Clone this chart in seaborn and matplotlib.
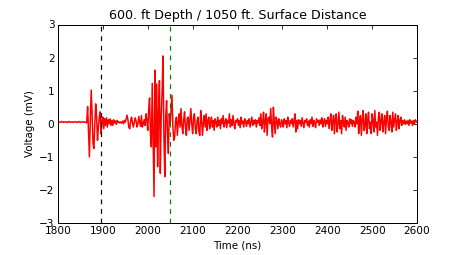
import numpy as np
import pandas as pd
import matplotlib
matplotlib.use("Agg")
import matplotlib.pyplot as plt
import seaborn as sns

# waveform samples, 2 ns step from 1800 ns to 2600 ns
t_start, t_step = 1800, 2
voltage = [
    0.05, 0.06, 0.04, 0.05, 0.07, 0.05, 0.04, 0.06, 0.05, 0.06,
    0.04, 0.05, 0.07, 0.05, 0.04, 0.06, 0.05, 0.04, 0.06, 0.05,
    0.06, 0.04, 0.05, 0.07, 0.05, 0.04, 0.06, 0.05, 0.05, 0.06,
    0.04, 0.05, 0.03, 0.52, -0.2, -1.0, 0.1, 1.02, 0.3, -0.6,
    -0.75, 0.0, 0.6, 0.2, -0.5, -0.1, 0.2, 0.36, -0.3, 0.1,
    0.2, -0.15, 0.15, -0.05, 0.18, -0.1, 0.12, 0.0, 0.15, -0.05,
    0.1, -0.05, 0.12, 0.02, 0.08, -0.02, 0.1, 0.04, 0.06, 0.02,
    0.06, 0.02, 0.08, 0.0, 0.1, 0.05, 0.15, 0.26, 0.1, -0.12,
    -0.15, 0.1, 0.2, 0.02, -0.1, 0.05, 0.18, 0.08, -0.1, 0.0,
    0.22, 0.05, -0.08, 0.25, -0.1, 0.0, 0.12, -0.05, 0.3, 0.1,
    -0.2, 0.4, 0.78, -0.3, -0.7, 1.22, -0.5, -2.2, 1.62, -0.7,
    1.2, -1.3, 0.3, 1.3, -1.5, 0.2, 1.0, 2.05, -0.4, -1.6,
    0.2, 0.7, -0.3, -0.9, 0.3, 0.0, 0.45, 0.86, -0.1, -0.5,
    -0.4, 0.1, 0.2, -0.35, 0.05, 0.3, -0.1, 0.46, -0.05, -0.3,
    0.1, 0.36, -0.1, -0.35, 0.15, 0.2, -0.2, 0.1, 0.46, 0.0,
    -0.3, 0.15, 0.3, -0.15, -0.3, 0.1, 0.2, -0.25, -0.35, 0.4,
    0.1, -0.35, 0.05, 0.25, -0.1, 0.3, -0.2, 0.1, 0.2, -0.15,
    0.05, 0.2, -0.1, 0.1, -0.2, 0.15, 0.05, -0.1, 0.2, -0.05,
    0.1, -0.15, 0.15, 0.0, 0.25, -0.1, 0.05, 0.15, -0.12, 0.1,
    0.02, 0.3, -0.1, 0.12, -0.05, 0.25, 0.0, -0.15, 0.1, 0.05,
    0.15, -0.05, 0.1, -0.12, 0.2, 0.0, 0.08, -0.1, 0.15, 0.05,
    -0.08, 0.1, 0.0, 0.15, -0.1, 0.05, 0.2, -0.05, 0.1, 0.0,
    0.12, -0.1, 0.1, 0.02, 0.18, -0.05, 0.3, -0.15, 0.05, 0.35,
    -0.25, 0.1, 0.3, -0.35, 0.15, 0.2, 0.0, 0.46, -0.1, -0.4,
    0.5, 0.05, -0.3, 0.2, 0.1, -0.15, 0.15, 0.0, -0.1, 0.12,
    0.05, -0.1, 0.15, 0.0, 0.1, -0.12, 0.2, 0.05, -0.08, 0.1,
    0.0, 0.15, -0.1, 0.08, 0.3, -0.25, 0.1, -0.15, 0.12, 0.0,
    0.1, -0.08, 0.18, 0.02, -0.12, 0.1, 0.05, 0.15, -0.05, 0.08,
    -0.1, 0.12, 0.0, 0.2, -0.08, 0.1, 0.02, -0.12, 0.15, 0.05,
    0.1, -0.05, 0.12, 0.0, 0.18, -0.1, 0.05, 0.15, -0.08, 0.1,
    0.0, 0.2, -0.15, 0.1, 0.3, -0.2, 0.05, 0.25, -0.3, 0.15,
    0.3, -0.25, 0.0, 0.35, -0.15, 0.1, -0.3, 0.25, 0.05, -0.1,
    0.2, -0.2, 0.1, 0.05, -0.1, 0.15, 0.0, 0.12, -0.08, 0.1,
    0.05, -0.1, 0.2, 0.0, 0.38, -0.3, 0.1, 0.25, -0.35, 0.15,
    0.4, -0.2, -0.05, 0.3, -0.3, 0.1, 0.35, -0.15, 0.05, -0.3,
    0.3, 0.1, -0.25, 0.4, -0.1, 0.05, -0.35, 0.2, 0.35, -0.2,
    0.1, 0.3, -0.25, 0.05, 0.25, -0.3, 0.15, 0.38, -0.1, -0.2,
    0.25, 0.05, -0.25, 0.35, -0.1, 0.1, 0.3, -0.2, 0.05, 0.25,
    -0.15, 0.1, 0.2, -0.05, 0.1, 0.0, 0.12, -0.02, 0.08, 0.0,
    0.1, -0.05, 0.12, 0.02, 0.08, -0.05, 0.1, 0.0, 0.12, 0.05,
    0.08,
]
time_ns = t_start + t_step * np.arange(len(voltage))

first_arrival = 1895   # black dashed marker
second_arrival = 2050  # green dashed marker

df = pd.DataFrame({"time": time_ns, "voltage": voltage})

sns.set_style("white")
plt.rcParams["font.family"] = ["DejaVu Sans"]
plt.rcParams["text.color"] = "black"
plt.rcParams["axes.labelcolor"] = "black"

fig = plt.figure(figsize=(463 / 72, 255 / 72), dpi=72)
ax = fig.add_axes([58 / 463, 32 / 255, 359 / 463, 198.5 / 255])

sns.lineplot(data=df, x="time", y="voltage", color="red", lw=1.5, ax=ax,
             estimator=None, sort=False)
ax.axvline(first_arrival, color="black", ls=(0, (4, 4)), lw=1.2)
ax.axvline(second_arrival, color="green", ls=(0, (4, 4)), lw=1.2)

ax.set_xlim(1800, 2600)
ax.set_ylim(-3, 3)
ax.set_xticks(np.arange(1800, 2601, 100))
ax.set_yticks(np.arange(-3, 4, 1))
ax.tick_params(direction="in", top=True, right=True, length=4, width=0.8,
               labelsize=10.5, colors="black")
for s in ax.spines.values():
    s.set_color("black")
    s.set_linewidth(1.0)

ax.set_title("600. ft Depth / 1050 ft. Surface Distance", fontsize=12.6,
             pad=5, color="black")
ax.set_xlabel("Time (ns)", fontsize=10.2, color="black")
ax.set_ylabel("Voltage (mV)", fontsize=10.2, color="black")

fig.savefig("out.png", dpi=72)
